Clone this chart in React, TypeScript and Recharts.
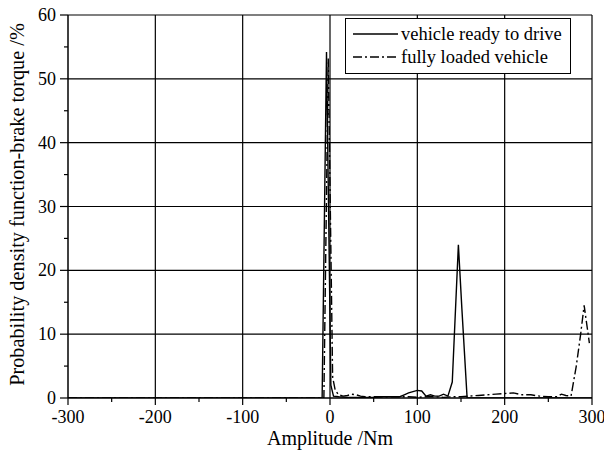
import React from 'react';
import { LineChart, Line, XAxis, YAxis, ReferenceLine, Legend, Label } from 'recharts';

const xTicks = [-300, -250, -200, -150, -100, -50, 0, 50, 100, 150, 200, 250, 300];
const yTicks = [0, 5, 10, 15, 20, 25, 30, 35, 40, 45, 50, 55, 60];
const xGrid = [-200, -100, 0, 100, 200, 300];
const yGrid = [10, 20, 30, 40, 50, 60];

const seriesNames = ['vehicle ready to drive', 'fully loaded vehicle'];

const readyX = [-300, -9, -4, 1, 4, 10, 20, 30, 40, 50, 60, 70, 80, 85, 90, 95, 100, 105, 110, 115, 120, 125, 130, 135, 140, 147, 151, 157, 200, 250, 300];
const readyY = [0, 0, 54.2, 2, 0.3, 0.2, 0.1, 0.1, 0.1, 0.1, 0.2, 0.2, 0.2, 0.5, 0.8, 1.0, 1.2, 1.1, 0.3, 0.5, 0.3, 0.3, 0.6, 0.3, 2.5, 24, 14, 0, 0, 0, 0];

const loadedX = [-300, -7, -2, 3, 6, 10, 15, 20, 25, 30, 35, 40, 50, 60, 70, 80, 90, 100, 110, 120, 130, 140, 150, 160, 170, 180, 190, 200, 210, 220, 230, 240, 250, 260, 265, 270, 276, 282, 287, 291, 297];
const loadedY = [0, 0, 53.2, 3.3, 1.2, 0.5, 0.3, 0.4, 0.6, 0.5, 0.3, 0.2, 0.2, 0.2, 0.2, 0.2, 0.2, 0.1, 0.2, 0.2, 0.1, 0.2, 0.2, 0.3, 0.4, 0.5, 0.6, 0.7, 0.8, 0.5, 0.5, 0.3, 0.2, 0.2, 0.6, 0.4, 0.3, 5, 10, 14.5, 8.6];

const readyData = readyX.map((x, i) => ({ x, y: readyY[i] }));
const loadedData = loadedX.map((x, i) => ({ x, y: loadedY[i] }));

const FONT = '"Liberation Serif", "Times New Roman", serif';
const TICK_SIZE = 7;
const TICK_MARGIN = 2;
const DASH = '9 3 2 3';

function XTick(props: any) {
  const { x, y, payload } = props;
  const axisY = y - TICK_SIZE - TICK_MARGIN;
  const major = payload.value % 100 === 0;
  return (
    <g>
      <line x1={x} x2={x} y1={axisY} y2={axisY + (major ? 7 : 4)} stroke="#000" strokeWidth={1.2} />
      {major && (
        <text x={x} y={axisY + 25} textAnchor="middle" fontSize={18} fontFamily={FONT} fill="#000">
          {payload.value}
        </text>
      )}
    </g>
  );
}

function YTick(props: any) {
  const { x, y, payload } = props;
  const axisX = x + TICK_SIZE + TICK_MARGIN;
  const major = payload.value % 10 === 0;
  return (
    <g>
      <line x1={axisX} x2={axisX - (major ? 8 : 4)} y1={y} y2={y} stroke="#000" strokeWidth={1.2} />
      {major && (
        <text x={axisX - 12} y={y} dy="0.34em" textAnchor="end" fontSize={18} fontFamily={FONT} fill="#000">
          {payload.value}
        </text>
      )}
    </g>
  );
}

function LegendBox() {
  return (
    <svg width={226} height={56} style={{ display: 'block' }}>
      <rect x={0.5} y={0.5} width={225} height={55} fill="#fff" stroke="#000" strokeWidth={1} />
      {seriesNames.map((name, i) => (
        <g key={name}>
          <line x1={8} x2={53} y1={16 + i * 23} y2={16 + i * 23} stroke="#000" strokeWidth={1.4} strokeDasharray={i === 1 ? DASH : undefined} />
          <text x={56} y={22 + i * 23} fontFamily={FONT} fontSize={18.5} fill="#000">
            {name}
          </text>
        </g>
      ))}
    </svg>
  );
}

export default function App() {
  return (
    <div style={{ position: 'absolute', left: 0, top: 0, width: 604, height: 457, background: '#fff' }}>
      <LineChart width={604} height={457} margin={{ top: 15, right: 12, left: 0, bottom: 0 }}>
        <XAxis
          type="number"
          dataKey="x"
          domain={[-300, 300]}
          ticks={xTicks}
          interval={0}
          tickSize={TICK_SIZE}
          tickMargin={TICK_MARGIN}
          tickLine={false}
          tick={<XTick />}
          height={59}
          stroke="#000"
          strokeWidth={1.5}
          allowDataOverflow
        >
          <Label
            content={(p: any) => {
              const vb = p.viewBox;
              return (
                <text x={vb.x + vb.width / 2} y={vb.y + 47} textAnchor="middle" fontFamily={FONT} fontSize={20} fill="#000">
                  Amplitude /Nm
                </text>
              );
            }}
          />
        </XAxis>
        <YAxis
          type="number"
          dataKey="y"
          domain={[0, 60]}
          ticks={yTicks}
          interval={0}
          tickSize={TICK_SIZE}
          tickMargin={TICK_MARGIN}
          tickLine={false}
          tick={<YTick />}
          width={68}
          stroke="#000"
          strokeWidth={1.5}
          allowDataOverflow
        >
          <Label
            content={(p: any) => {
              const vb = p.viewBox;
              const cx = 24;
              const cy = vb.y + vb.height / 2 - 2;
              return (
                <text x={cx} y={cy} transform={`rotate(-90, ${cx}, ${cy})`} textAnchor="middle" fontFamily={FONT} fontSize={20.3} fill="#000">
                  Probability density function-brake torque /%
                </text>
              );
            }}
          />
        </YAxis>
        {xGrid.map((v) => (
          <ReferenceLine key={'vx' + v} x={v} stroke="#000" strokeWidth={1.2} />
        ))}
        {yGrid.map((v) => (
          <ReferenceLine key={'hy' + v} y={v} stroke="#000" strokeWidth={1.2} />
        ))}
        <Line data={readyData} dataKey="y" name={seriesNames[0]} type="linear" stroke="#000" strokeWidth={1.4} dot={false} isAnimationActive={false} />
        <Line data={loadedData} dataKey="y" name={seriesNames[1]} type="linear" stroke="#000" strokeWidth={1.4} strokeDasharray={DASH} dot={false} isAnimationActive={false} />
        <Legend
          layout="vertical"
          align="center"
          verticalAlign="middle"
          content={() => <LegendBox />}
          wrapperStyle={{ position: 'absolute', left: 345, top: 18, width: 226, height: 56 }}
        />
      </LineChart>
    </div>
  );
}
